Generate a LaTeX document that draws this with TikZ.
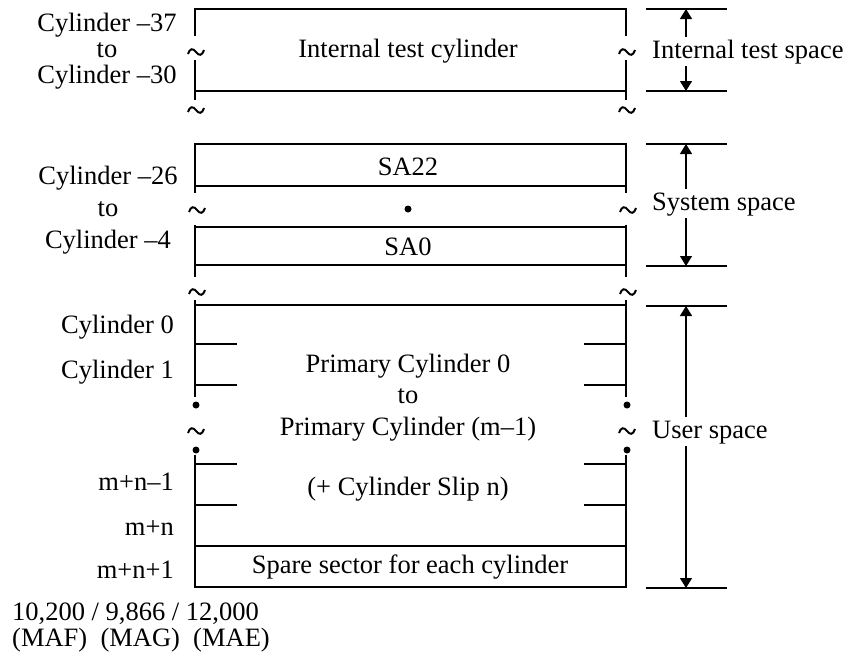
\documentclass[tikz,border=0pt]{standalone}
\usepackage{fontspec}
\setmainfont{Liberation Serif}
\usepackage{tikz}
\usetikzlibrary{arrows.meta,positioning,calc}

\tikzset{
  brk/.pic={\draw[line width=2pt] (-8,2) .. controls (-6,-4) and (-3,-4) .. (0,0) .. controls (3,4) and (6,4) .. (8,-2);}
}

\begin{document}
\begin{tikzpicture}[x=1pt, y=-1pt]
  \tikzstyle{every node}=[font=\fontsize{26.5}{30}\selectfont, inner sep=0pt]
  \tikzstyle{wall}=[line width=2.9pt, line join=miter]
  \tikzstyle{ext}=[line width=1.2pt]
  \tikzstyle{dim}=[line width=1.4pt, -{Triangle[width=12pt,length=10pt]}]
  \tikzstyle{dimlabel}=[anchor=base west, fill=white, text height=21pt, text depth=8pt]
  \tikzstyle{dot}=[circle, fill=black, minimum size=7pt]

  \useasboundingbox (0,0) rectangle (852,657);

  % Internal test cylinder
  \draw[wall] (195,36) -- (195,9) -- (626,9) -- (626,36);
  \draw[wall] (195,60) -- (195,100);
  \draw[wall] (626,60) -- (626,100);
  \draw[wall] (195,91) -- (626,91);
  \pic at (196,52) {brk};
  \pic at (627,52) {brk};
  \pic at (196,110) {brk};
  \pic at (627,110) {brk};
  \node[anchor=base] (itc) at (408,57) {Internal test cylinder};
  \node[anchor=base] (c37) at (107,31) {Cylinder –37};
  \node[anchor=base] (to1) at (107,57) {to};
  \node[anchor=base] (c30) at (107,83) {Cylinder –30};

  % System space
  \draw[wall] (195,193) -- (195,144) -- (626,144) -- (626,193);
  \draw[wall] (195,186) -- (626,186);
  \draw[wall] (195,225) -- (195,277);
  \draw[wall] (626,225) -- (626,277);
  \draw[wall] (195,227) -- (626,227);
  \draw[wall] (195,265) -- (626,265);
  \pic at (197,210) {brk};
  \pic at (628,210) {brk};
  \pic at (197,292) {brk};
  \pic at (628,292) {brk};
  \node[anchor=base] (sa22) at (408,175) {SA22};
  \node[dot] (sadot) at (408,209) {};
  \node[anchor=base] (sa0) at (408,255) {SA0};
  \node[anchor=base] (c26) at (108,184) {Cylinder –26};
  \node[anchor=base] (to2) at (108,216) {to};
  \node[anchor=base] (c4) at (108,248) {Cylinder –4};

  % User space
  \draw[wall] (195,300) -- (195,397);
  \draw[wall] (626,300) -- (626,397);
  \draw[wall] (195,455) -- (195,587) -- (626,587) -- (626,455);
  \draw[wall] (195,305) -- (626,305);
  \draw[wall] (195,546) -- (626,546);
  \foreach \y in {344,385,464,505} {
    \draw[wall] (195,\y) -- (237,\y);
    \draw[wall] (584,\y) -- (626,\y);
  }
  \node[dot] (dl1) at (196,405) {};
  \node[dot] (dr1) at (627,405) {};
  \node[dot] (dl2) at (196,450) {};
  \node[dot] (dr2) at (627,450) {};
  \pic at (196,431) {brk};
  \pic at (627,431) {brk};
  \node[anchor=base] (pc0) at (408,372) {Primary Cylinder 0};
  \node[anchor=base] (to3) at (408,403) {to};
  \node[anchor=base] (pcm) at (408,435) {Primary Cylinder (m–1)};
  \node[anchor=base] (slip) at (408,495) {(+ Cylinder Slip n)};
  \node[anchor=base] (spare) at (410,573) {Spare sector for each cylinder};
  \node[anchor=base east] (cy0) at (174,333) {Cylinder 0};
  \node[anchor=base east] (cy1) at (174,378) {Cylinder 1};
  \node[anchor=base east] (mn1) at (174,490) {m+n–1};
  \node[anchor=base east] (mn) at (174,535) {m+n};
  \node[anchor=base east] (mnp) at (174,578) {m+n+1};

  % capacities
  \node[anchor=base west] (cap) at (12,620) {10,200 / 9,866 / 12,000};
  \node[anchor=base west] (mdl) at (12,646) {(MAF)\ \ (MAG)\ \ (MAE)};

  % dimension lines
  \foreach \y in {9,91,144,266,306,588}
    \draw[ext] (646,\y) -- (727,\y);
  \coordinate (it1) at (686,9);
  \coordinate (it2) at (686,91);
  \coordinate (ss1) at (686,144);
  \coordinate (ss2) at (686,266);
  \coordinate (us1) at (686,306);
  \coordinate (us2) at (686,588);
  \node[dimlabel] (its) at (652,58) {Internal test space};
  \node[dimlabel] (sys) at (652,210) {System space};
  \node[dimlabel] (usr) at (652,438) {User space};
  \draw[dim] (its.north -| it1) -- (it1);
  \draw[dim] (its.south -| it2) -- (it2);
  \draw[dim] (sys.north -| ss1) -- (ss1);
  \draw[dim] (sys.south -| ss2) -- (ss2);
  \draw[dim] (usr.north -| us1) -- (us1);
  \draw[dim] (usr.south -| us2) -- (us2);
\end{tikzpicture}
\end{document}
